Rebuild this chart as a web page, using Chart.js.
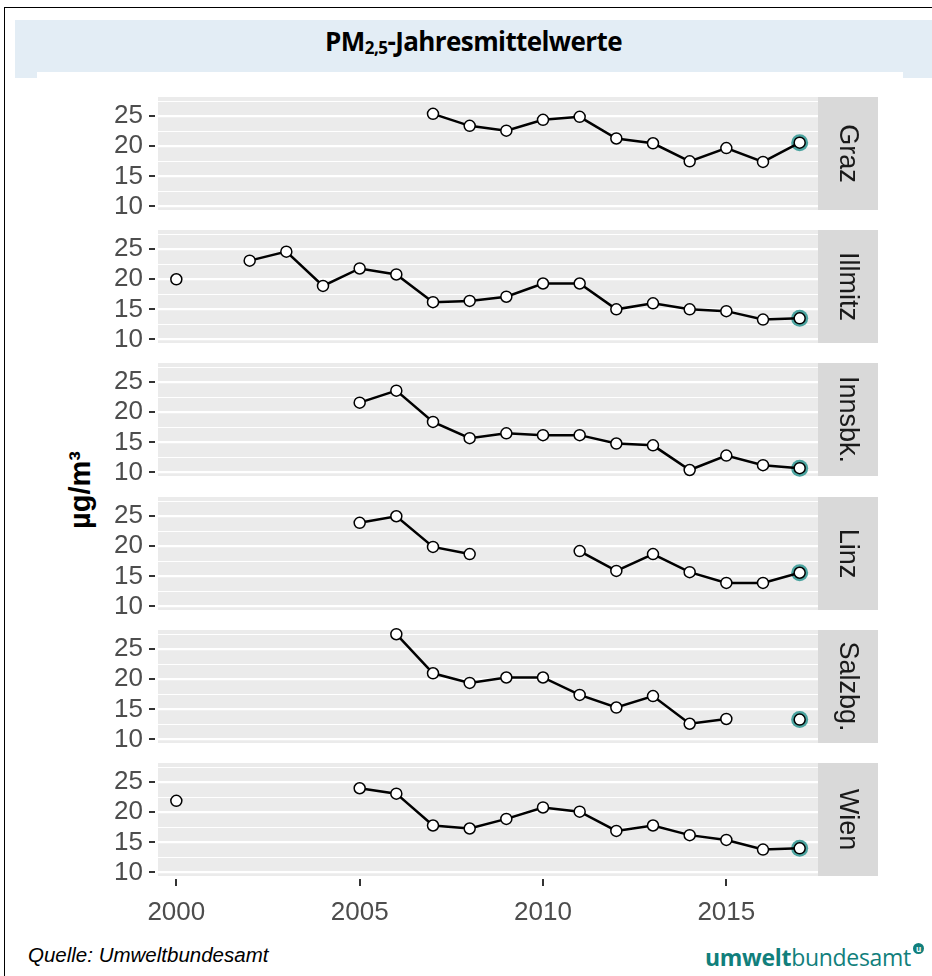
<!DOCTYPE html>
<html>
<head>
<meta charset="utf-8">
<script src="https://cdn.jsdelivr.net/npm/chart.js@4.4.1/dist/chart.umd.min.js"></script>
<style>
  body { margin: 0; width: 932px; height: 976px; position: relative; overflow: hidden; background: #fff; font-family: "Liberation Sans", Arial, sans-serif; }
  #frame { position: absolute; left: 4px; top: 7px; width: 940px; height: 990px; border: 1px solid #000; }
  #band { position: absolute; left: 15px; top: 20px; width: 917px; height: 58px; background: #e3edf5; }
  #tab { position: absolute; left: 37px; top: 72px; width: 866px; height: 8px; background: #fff; }
  #title { position: absolute; left: 15px; top: 23px; width: 917px; text-align: center; font: 700 26px "Open Sans", sans-serif; letter-spacing: -0.6px; color: #000; }
  #title sub { font-size: 17px; vertical-align: -3px; letter-spacing: -0.5px; }
  .panel { position: absolute; left: 40px; }
  #ytitle { position: absolute; left: 80px; top: 490px; transform: translate(-50%, -50%) rotate(-90deg); font: 700 29px "Liberation Sans", Arial, sans-serif; color: #000; white-space: nowrap; }
  #source { position: absolute; left: 28px; top: 943px; font: italic 20.5px "Liberation Sans", Arial, sans-serif; color: #000; }
  #logo { position: absolute; left: 705px; top: 941px; font: 400 23px "Open Sans", sans-serif; color: #117f7c; letter-spacing: -0.3px; }
  #logo b { font-weight: 700; }
  #logo span { display: inline-block; width: 11px; height: 11px; border-radius: 6px; background: #117f7c; color: #fff; font: 700 8px "Open Sans", sans-serif; line-height: 11px; text-align: center; vertical-align: 14px; margin-left: 2px; }
</style>
</head>
<body>
<div id="frame"></div>
<div id="band"></div>
<div id="tab"></div>
<div id="title">PM<sub>2,5</sub>-Jahresmittelwerte</div>
<div id="ytitle">µg/m³</div>
<div id="source">Quelle: Umweltbundesamt</div>
<div id="logo"><b>umwelt</b>bundesamt<span>u</span></div>

<script>
var years = [2000, 2001, 2002, 2003, 2004, 2005, 2006, 2007, 2008, 2009, 2010, 2011, 2012, 2013, 2014, 2015, 2016, 2017];
var stations = ['Graz', 'Illmitz', 'Innsbk.', 'Linz', 'Salzbg.', 'Wien'];
var graz    = [null, null, null, null, null, null, null, 25.4, 23.4, 22.6, 24.4, 24.9, 21.3, 20.5, 17.5, 19.7, 17.4, 20.6];
var illmitz = [20.0, null, 23.1, 24.6, 18.9, 21.8, 20.8, 16.2, 16.4, 17.1, 19.3, 19.3, 15.0, 16.0, 15.0, 14.7, 13.3, 13.5];
var innsbk  = [null, null, null, null, null, 21.6, 23.6, 18.4, 15.7, 16.5, 16.2, 16.2, 14.8, 14.5, 10.4, 12.8, 11.2, 10.7];
var linz    = [null, null, null, null, null, 23.9, 25.0, 19.9, 18.7, null, null, 19.2, 15.9, 18.7, 15.7, 13.9, 13.9, 15.6];
var salzbg  = [null, null, null, null, null, null, 27.5, 21.0, 19.4, 20.3, 20.3, 17.4, 15.3, 17.2, 12.6, 13.4, null, 13.3];
var wien    = [21.9, null, null, null, null, 24.0, 23.1, 17.8, 17.3, 18.9, 20.8, 20.1, 16.9, 17.8, 16.2, 15.4, 13.8, 14.0];
var series = [graz, illmitz, innsbk, linz, salzbg, wien];
var xTicks = [2000, 2005, 2010, 2015];
var yTicks = [10, 15, 20, 25];
var yGrid = [10, 12.5, 15, 17.5, 20, 22.5, 25, 27.5];

// Layout
var panelTops = [97, 230, 363, 497, 630, 763];
var panelH = 113;
var pad = 14;
var canvasW = 860;
var highlightYear = 2017;

var stripPlugin = {
    id: 'strip',
    beforeDraw: function (chart) {
        var a = chart.chartArea;
        var ctx = chart.ctx;
        ctx.save();
        ctx.fillStyle = '#ebebeb';
        ctx.fillRect(a.left, a.top, a.right - a.left, a.bottom - a.top);
        ctx.restore();
    },
    afterDraw: function (chart, args, opts) {
        var a = chart.chartArea;
        var ctx = chart.ctx;
        ctx.save();
        // strip
        ctx.fillStyle = '#d9d9d9';
        ctx.fillRect(a.right, a.top, 60, a.bottom - a.top);
        ctx.translate(a.right + 30, (a.top + a.bottom) / 2);
        ctx.rotate(Math.PI / 2);
        ctx.fillStyle = '#1a1a1a';
        ctx.font = '27px "Liberation Sans", Arial, sans-serif';
        ctx.textAlign = 'center';
        ctx.textBaseline = 'middle';
        ctx.fillText(opts.label, 0, 1);
        ctx.restore();
        // tick marks
        ctx.save();
        ctx.strokeStyle = '#333';
        ctx.lineWidth = 2;
        var ys = chart.scales.y;
        yTicks.forEach(function (v) {
            var py = Math.round(ys.getPixelForValue(v));
            ctx.beginPath();
            ctx.moveTo(a.left - 9, py);
            ctx.lineTo(a.left - 3, py);
            ctx.stroke();
        });
        if (opts.xAxis) {
            var xs = chart.scales.x;
            xTicks.forEach(function (v) {
                var px = Math.round(xs.getPixelForValue(v));
                ctx.beginPath();
                ctx.moveTo(px, a.bottom + 3);
                ctx.lineTo(px, a.bottom + 10);
                ctx.stroke();
            });
        }
        ctx.restore();
    }
};

function makePanel(i) {
    var last = (i === stations.length - 1);
    var h = pad + panelH + (last ? 50 : pad);
    var div = document.createElement('div');
    div.className = 'panel';
    div.style.top = (panelTops[i] - pad) + 'px';
    var canvas = document.createElement('canvas');
    canvas.width = canvasW;
    canvas.height = h;
    canvas.style.width = canvasW + 'px';
    canvas.style.height = h + 'px';
    div.appendChild(canvas);
    document.body.appendChild(div);

    var values = series[i];
    var points = years.map(function (yr, k) { return { x: yr, y: values[k] }; });
    var hi = points.filter(function (p) { return p.x === highlightYear && p.y !== null; });

    new Chart(canvas.getContext('2d'), {
        type: 'line',
        data: {
            datasets: [{
                data: points,
                borderColor: '#000',
                borderWidth: 2.5,
                pointRadius: 5.5,
                pointBackgroundColor: '#fff',
                pointBorderColor: '#000',
                pointBorderWidth: 1.5,
                spanGaps: false,
                tension: 0,
                clip: false,
                order: 1
            }, {
                data: hi,
                showLine: false,
                pointRadius: 8.5,
                pointBackgroundColor: '#4aa39f',
                pointBorderWidth: 0,
                clip: false,
                order: 2
            }]
        },
        options: {
            responsive: false,
            animation: false,
            events: [],
            layout: { padding: { top: pad, bottom: last ? 0 : pad, left: 0, right: 82 } },
            plugins: {
                legend: { display: false },
                tooltip: { enabled: false },
                strip: { label: stations[i], xAxis: last }
            },
            scales: {
                x: {
                    type: 'linear',
                    min: 1999.5,
                    max: 2017.5,
                    display: last,
                    grid: { display: false },
                    border: { display: false },
                    afterBuildTicks: function (s) { s.ticks = xTicks.map(function (v) { return { value: v }; }); },
                    afterFit: function (s) {
                        s.height = last ? 50 : 0;
                        s.paddingLeft = 0;
                        s.paddingRight = 0;
                    },
                    ticks: {
                        padding: 13,
                        autoSkip: false,
                        color: '#4d4d4d',
                        font: { size: 26, family: '"Liberation Sans", Arial, sans-serif' },
                        maxRotation: 0,
                        callback: function (v) { return String(v); }
                    }
                },
                y: {
                    min: 9.4,
                    max: 28.2,
                    border: { display: false },
                    afterBuildTicks: function (s) { s.ticks = yGrid.map(function (v) { return { value: v }; }); },
                    afterFit: function (s) {
                        s.width = 118;
                        s.paddingTop = 0;
                        s.paddingBottom = 0;
                    },
                    grid: {
                        color: '#fff',
                        drawTicks: false,
                        lineWidth: function (c) { return yTicks.indexOf(c.tick.value) >= 0 ? 2.2 : 1.1; }
                    },
                    ticks: {
                        padding: 15,
                        autoSkip: false,
                        color: '#4d4d4d',
                        font: { size: 26, family: '"Liberation Sans", Arial, sans-serif' },
                        callback: function (v) { return yTicks.indexOf(v) >= 0 ? String(v) : ''; }
                    }
                }
            }
        },
        plugins: [stripPlugin]
    });
}

for (var i = 0; i < stations.length; i++) {
    makePanel(i);
}
</script>
</body>
</html>
